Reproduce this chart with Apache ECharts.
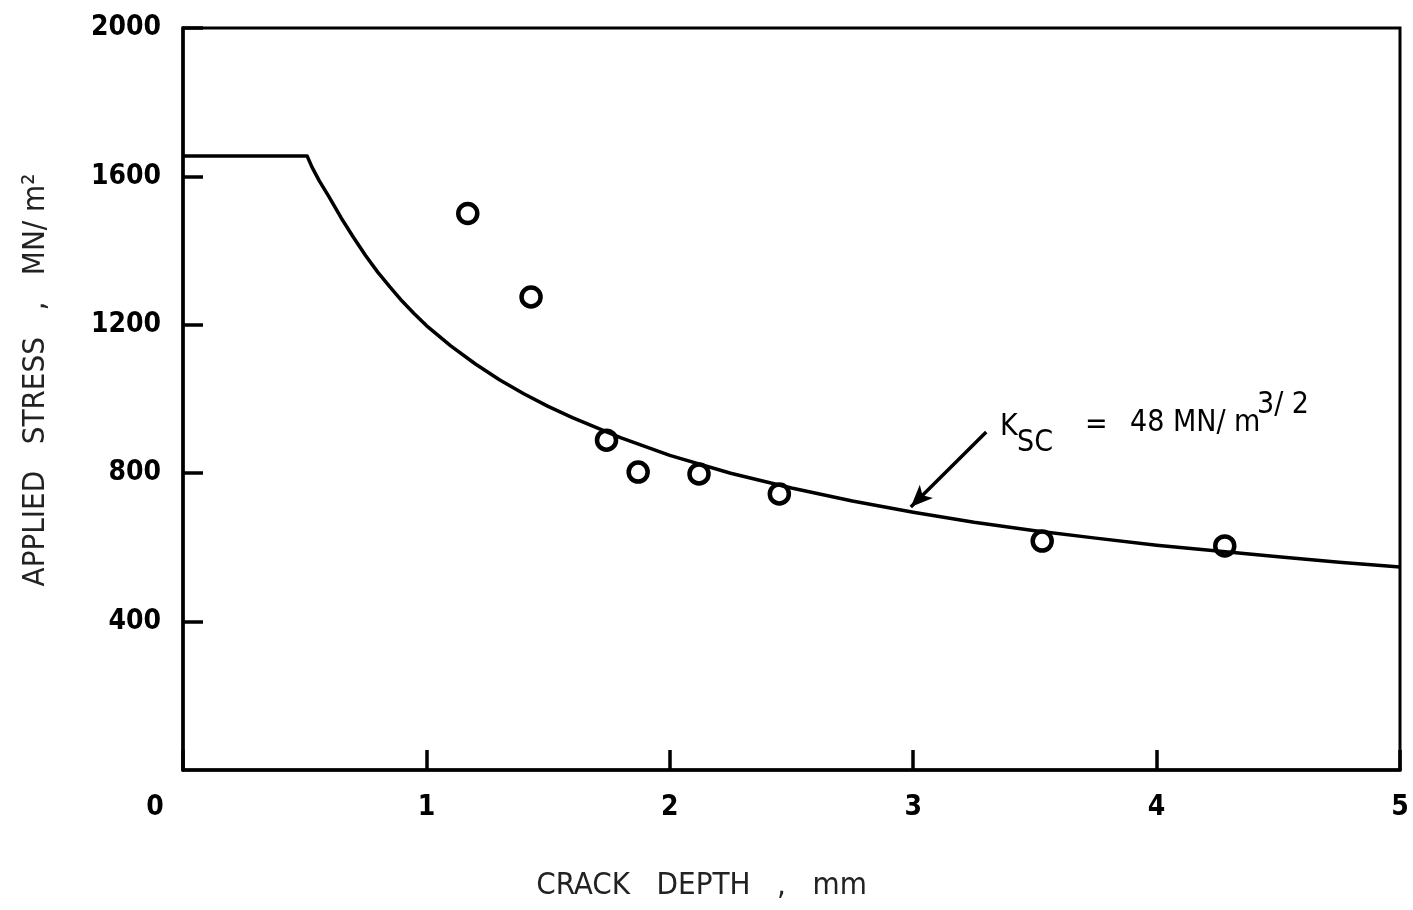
<!DOCTYPE html>
<html>
<head>
<meta charset="utf-8">
<script src="https://cdn.jsdelivr.net/npm/echarts@6/dist/echarts.min.js"></script>
<style>
  html, body { margin: 0; padding: 0; background: #fff; }
  #chart { width: 1413px; height: 910px; }
</style>
</head>
<body>
<div id="chart"></div>
<script>
// crack depth (mm) vs applied stress (MN/m2)
var curveDepth  = [0, 0.51, 0.53, 0.56, 0.6, 0.65, 0.7, 0.75, 0.8, 0.85, 0.9, 0.95, 1.0, 1.1, 1.2, 1.3, 1.4, 1.5, 1.6, 1.8, 2.0, 2.25, 2.5, 2.75, 3.0, 3.25, 3.5, 3.75, 4.0, 4.25, 4.5, 4.75, 5.0];
var curveStress = [1655, 1655, 1625, 1588, 1545, 1488, 1436, 1387, 1342, 1302, 1264, 1230, 1198, 1143, 1095, 1052, 1014, 980, 950, 895, 848, 800, 760, 725, 695, 668, 645, 625, 606, 590, 575, 560, 547];

var testDepth  = [1.17, 1.43, 1.74, 1.87, 2.12, 2.45, 3.53, 4.28];
var testStress = [1500, 1275, 889, 803, 798, 744, 617, 604];

var xTicks = [0, 1, 2, 3, 4, 5];
var yTicks = [0, 400, 800, 1200, 1600, 2000];

// arrow pointing at the curve
var arrowFrom = [3.30, 911];
var arrowTo   = [2.99, 709];

var curveData = [];
for (var i = 0; i < curveDepth.length; i++) {
  curveData.push([curveDepth[i], curveStress[i]]);
}
var testData = [];
for (var j = 0; j < testDepth.length; j++) {
  testData.push([testDepth[j], testStress[j]]);
}

var tickFont = '"DejaVu Sans Condensed", "DejaVu Sans", sans-serif';
var textFont = '"DejaVu Sans Condensed", "DejaVu Sans", sans-serif';

var myChart = echarts.init(document.getElementById('chart'));

var option = {
  backgroundColor: '#fff',
  animation: false,
  grid: {
    left: 183, right: 13, top: 28, bottom: 140,
    show: true,
    borderColor: '#000',
    borderWidth: 3
  },
  xAxis: {
    type: 'value',
    min: xTicks[0],
    max: xTicks[xTicks.length - 1],
    interval: 1,
    splitLine: { show: false },
    axisLine: { lineStyle: { color: '#000', width: 3.5 } },
    axisTick: { inside: true, length: 20, lineStyle: { color: '#000', width: 3.5 } },
    axisLabel: {
      margin: 24,
      color: '#000',
      fontFamily: tickFont,
      fontWeight: 'bold',
      fontSize: 28,
      showMaxLabel: true,
      formatter: function (v) {
        return v === 0 ? '{z|0}' : String(v);
      },
      rich: {
        z: { fontFamily: tickFont, fontWeight: 'bold', fontSize: 28, color: '#000', padding: [0, 56, 0, 0] }
      }
    },
    name: 'CRACK   DEPTH   ,   mm',
    nameLocation: 'middle',
    nameGap: 100,
    nameTextStyle: {
      fontFamily: textFont,
      fontSize: 31,
      color: '#222',
      padding: [0, 180, 0, 0]
    }
  },
  yAxis: {
    type: 'value',
    min: yTicks[0],
    max: yTicks[yTicks.length - 1],
    interval: 400,
    splitLine: { show: false },
    axisLine: { lineStyle: { color: '#000', width: 3.5 } },
    axisTick: { inside: true, length: 20, lineStyle: { color: '#000', width: 3.5 } },
    axisLabel: {
      margin: 22,
      color: '#000',
      fontFamily: tickFont,
      fontWeight: 'bold',
      fontSize: 28,
      showMinLabel: false,
      showMaxLabel: true,
      formatter: function (v) { return String(v); }
    },
    name: 'APPLIED   STRESS   ,   MN/ m²',
    nameLocation: 'middle',
    nameGap: 132,
    nameTextStyle: {
      fontFamily: textFont,
      fontSize: 31,
      color: '#222',
      padding: [0, 0, 0, 38]
    }
  },
  series: [
    {
      name: 'Ksc curve',
      type: 'line',
      data: curveData,
      smooth: false,
      symbol: 'none',
      lineStyle: { color: '#000', width: 3.5, join: 'round' },
      markLine: {
        silent: true,
        symbolSize: [14, 22],
        lineStyle: { color: '#000', width: 3.5, type: 'solid' },
        label: { show: false },
        data: [[
          { coord: arrowFrom, symbol: 'none' },
          { coord: arrowTo, symbol: 'arrow' }
        ]]
      }
    },
    {
      name: 'tests',
      type: 'scatter',
      data: testData,
      symbol: 'circle',
      symbolSize: 19,
      itemStyle: { color: '#fff', borderColor: '#000', borderWidth: 4.5, opacity: 1 }
    }
  ],
  graphic: [
    { type: 'text', left: 1000, top: 412, style: { text: 'K', font: '30px ' + textFont, fill: '#000' } },
    { type: 'text', left: 1017, top: 428, style: { text: 'SC', font: '30px ' + textFont, fill: '#000' } },
    { type: 'text', left: 1085, top: 410, style: { text: '=', font: '30px ' + textFont, fill: '#000' } },
    { type: 'text', left: 1130, top: 408, style: { text: '48 MN/ m', font: '30px ' + textFont, fill: '#000' } },
    { type: 'text', left: 1257, top: 390, style: { text: '3/ 2', font: '30px ' + textFont, fill: '#000' } }
  ]
};

myChart.setOption(option);
</script>
</body>
</html>
